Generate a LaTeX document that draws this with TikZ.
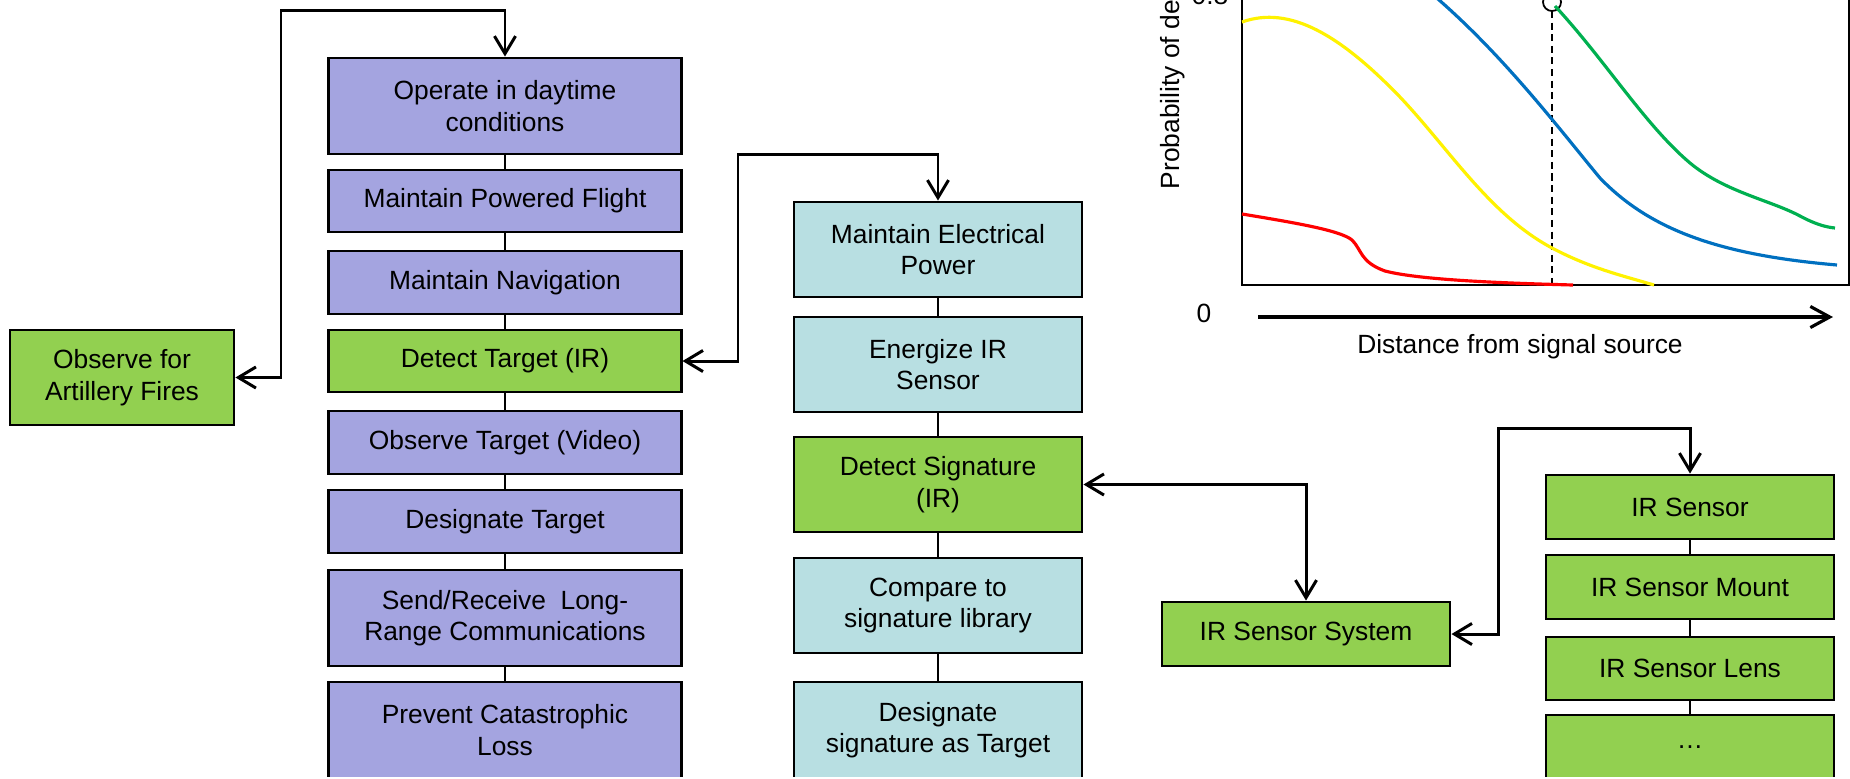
\documentclass[tikz,border=0pt]{standalone}
\usepackage{fontspec}
\setmainfont{Liberation Sans}
\usetikzlibrary{arrows.meta}
\definecolor{fnpurple}{RGB}{164,164,224}
\definecolor{fngreen}{RGB}{146,208,80}
\definecolor{fnaqua}{RGB}{184,223,226}
\definecolor{pdblue}{RGB}{0,112,192}
\definecolor{pdgreen}{RGB}{0,176,80}
\begin{document}
\begin{tikzpicture}[x=0.01cm,y=-0.01cm,
  txt/.style={font=\fontsize{7.5}{9}\selectfont},
  fnbox/.style={txt,draw,line width=.8pt,align=center,inner sep=1pt},
  uav/.style={fnbox,fill=fnpurple,minimum width=3.52cm},
  sub/.style={fnbox,fill=fnaqua,minimum width=2.88cm},
  hit/.style={fnbox,fill=fngreen,minimum width=2.88cm},
  tie/.style={line width=.6pt},
  link/.style={line width=.85pt,{Straight Barb[length=5pt,width=6pt]}-{Straight Barb[length=5pt,width=6pt]}},
  curve/.style={line width=.9pt}]
  \useasboundingbox (0,0) rectangle (1850,778);
  \clip (0,0) rectangle (1850,776.5);

  % vehicle functions
  \node[uav,minimum height=.96cm] (op) at (505,106) {Operate in daytime\\conditions};
  \node[uav,minimum height=.62cm] (pf) at (505,201) {Maintain Powered Flight};
  \node[uav,minimum height=.63cm] (nav) at (505,282.5) {Maintain Navigation};
  \node[uav,fill=fngreen,minimum height=.62cm] (dt) at (505,361) {Detect Target (IR)};
  \node[uav,minimum height=.63cm] (ov) at (505,442.5) {Observe Target (Video)};
  \node[uav,minimum height=.63cm] (dg) at (505,521.5) {Designate Target};
  \node[uav,minimum height=.96cm] (sr) at (505,618) {Send/Receive\ \ Long-\\Range Communications};
  \node[uav,minimum height=.96cm] (pc) at (505,730) {Prevent Catastrophic\\Loss};
  \node[hit,minimum width=2.24cm,minimum height=.95cm] (obs) at (122,377.5) {Observe for\\Artillery Fires};

  % sub-functions
  \node[sub,minimum height=.95cm] (pw) at (938,249.5) {Maintain Electrical\\Power};
  \node[sub,minimum height=.95cm] (en) at (938,364.5) {Energize IR\\Sensor};
  \node[sub,fill=fngreen,minimum height=.95cm] (ds) at (938,484.5) {Detect Signature\\(IR)};
  \node[sub,minimum height=.95cm] (cmp) at (938,605.5) {Compare to\\signature library};
  \node[sub,minimum height=.96cm] (dst) at (938,730) {Designate\\signature as Target};

  % components
  \node[hit,minimum height=.64cm] (sys) at (1306,634) {IR Sensor System};
  \node[hit,minimum height=.64cm] (irs) at (1690,507) {IR Sensor};
  \node[hit,minimum height=.64cm] (mnt) at (1690,587) {IR Sensor Mount};
  \node[hit,minimum height=.63cm] (lns) at (1690,668.5) {IR Sensor Lens};
  \node[hit,minimum height=.64cm] (etc) at (1690,747) {…};

  \foreach \a/\b in {op/pf,pf/nav,nav/dt,dt/ov,ov/dg,dg/sr,sr/pc,
                     pw/en,en/ds,ds/cmp,cmp/dst,irs/mnt,mnt/lns,lns/etc}
    \draw[tie] (\a) -- (\b);

  \coordinate (b1) at (281,10);
  \coordinate (b2) at (738,154);
  \coordinate (b3) at (1498,428);
  \draw[link] (obs.east) -| (b1) -| (op.north);
  \draw[link] (dt.east) -| (b2) -| (pw.north);
  \draw[link] (ds.east) -| (sys.north);
  \draw[link] (sys.east) -| (b3) -| (irs.north);

  % detection curves
  \draw[line width=.7pt] (1242,-5) |- (1849,285) -- (1849,-5);
  \draw[line width=.5pt,dash pattern=on 2pt off 1.3pt] (1552,11) -- (1552,285);
  \draw[line width=.5pt] (1552,2) circle (0.09cm);
  \draw[curve,yellow] (1242,22) .. controls (1290,5) and (1340,35) .. (1400,97)
    .. controls (1450,150) and (1490,215) .. (1552,248)
    .. controls (1590,268) and (1620,275) .. (1654,285);
  \draw[curve,pdblue] (1425,-12) .. controls (1500,50) and (1560,130) .. (1600,178)
    .. controls (1650,230) and (1720,255) .. (1837,265);
  \draw[curve,pdgreen] (1555,6) .. controls (1605,60) and (1645,125) .. (1690,163)
    .. controls (1725,192) and (1770,200) .. (1800,216)
    .. controls (1815,224) and (1825,227) .. (1835,228);
  \draw[curve,red] (1242,214) .. controls (1290,222) and (1340,230) .. (1352,240)
    .. controls (1362,250) and (1360,262) .. (1385,271)
    .. controls (1420,280) and (1500,283) .. (1573,285);
  \draw[line width=.9pt,-{Straight Barb[length=5.5pt,width=6pt]}] (1258,317) -- (1833,317);
  \node[txt] (zero) at (1204,313) {0};
  \node[txt,anchor=base] (top) at (1210,4) {0.8};
  \node[txt,anchor=base] (xlab) at (1520,353) {Distance from signal source};
  \node[txt,rotate=90,anchor=base west,inner sep=0pt] (ylab) at (1179,190) {Probability of detection};
\end{tikzpicture}
\end{document}
